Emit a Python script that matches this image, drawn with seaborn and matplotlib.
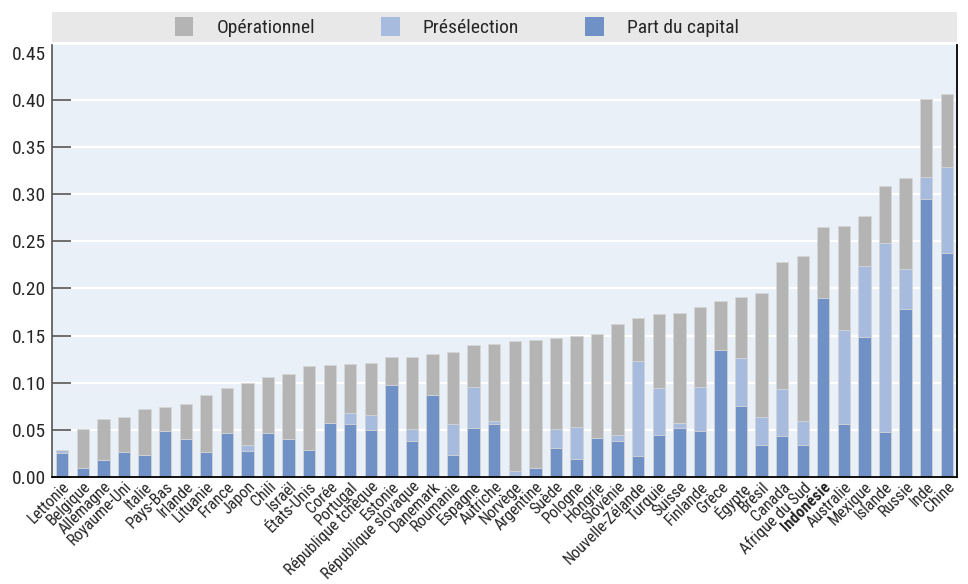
import matplotlib
matplotlib.use("Agg")
import matplotlib.pyplot as plt
from matplotlib.patches import Rectangle, Patch
from matplotlib import font_manager
import seaborn as sns
import pandas as pd
import numpy as np

countries = ["Lettonie", "Belgique", "Allemagne", "Royaume-Uni", "Italie", "Pays-Bas",
             "Irlande", "Lituanie", "France", "Japon", "Chili", "Israël", "États-Unis",
             "Corée", "Portugal", "République tchèque", "Estonie", "République slovaque",
             "Danemark", "Roumanie", "Espagne", "Autriche", "Norvège", "Argentine", "Suède",
             "Pologne", "Hongrie", "Slovénie", "Nouvelle-Zélande", "Turquie", "Suisse",
             "Finlande", "Grèce", "Égypte", "Brésil", "Canada", "Afrique du Sud",
             "Indonésie", "Australie", "Mexique", "Islande", "Russie", "Inde", "Chine"]

part_capital = [0.025, 0.010, 0.018, 0.027, 0.023, 0.049, 0.040, 0.026, 0.047, 0.028,
                0.047, 0.040, 0.029, 0.057, 0.056, 0.050, 0.098, 0.038, 0.087, 0.023,
                0.052, 0.056, 0.000, 0.010, 0.031, 0.019, 0.041, 0.038, 0.022, 0.044,
                0.052, 0.049, 0.135, 0.075, 0.034, 0.043, 0.034, 0.190, 0.056, 0.148,
                0.048, 0.178, 0.295, 0.238]
preselection = [0.004, 0.000, 0.000, 0.000, 0.000, 0.000, 0.000, 0.000, 0.000, 0.006,
                0.000, 0.000, 0.000, 0.000, 0.012, 0.016, 0.000, 0.013, 0.000, 0.033,
                0.043, 0.003, 0.006, 0.000, 0.020, 0.034, 0.000, 0.007, 0.101, 0.050,
                0.005, 0.046, 0.000, 0.051, 0.030, 0.050, 0.025, 0.000, 0.100, 0.076,
                0.200, 0.042, 0.023, 0.091]
operationnel = [0.000, 0.041, 0.044, 0.037, 0.049, 0.025, 0.037, 0.061, 0.047, 0.066,
                0.059, 0.069, 0.089, 0.062, 0.052, 0.055, 0.029, 0.076, 0.043, 0.076,
                0.045, 0.082, 0.138, 0.135, 0.096, 0.097, 0.111, 0.117, 0.046, 0.079,
                0.117, 0.085, 0.052, 0.065, 0.131, 0.135, 0.175, 0.075, 0.110, 0.053,
                0.061, 0.097, 0.083, 0.077]

yticks = [0.00, 0.05, 0.10, 0.15, 0.20, 0.25, 0.30, 0.35, 0.40, 0.45]
legend_labels = ["Opérationnel", "Présélection", "Part du capital"]

C_OP = "#b4b4b4"
C_PRE = "#a6bbdd"
C_CAP = "#6f91c5"
BG = "#eaf0f8"
BAND = "#e8e8e8"

sns.set_theme(style="white")
avail = {f.name for f in font_manager.fontManager.ttflist}
fam = [f for f in ["Liberation Sans Narrow", "Roboto Condensed", "Liberation Sans", "DejaVu Sans"] if f in avail]
plt.rcParams["font.family"] = fam + ["DejaVu Sans"]

df = pd.DataFrame({"pays": countries, "cap": part_capital, "pre": preselection, "op": operationnel})
df["lvl2"] = df["cap"] + df["pre"]
df["lvl3"] = df["lvl2"] + df["op"]

fig = plt.figure(figsize=(9.68, 5.84), dpi=100)
ax = fig.add_axes([52 / 968, 1 - 477 / 584, (957 - 52) / 968, (477 - 45) / 584])
ax.set_facecolor(BG)

kw = dict(width=0.6, edgecolor="#d6d6d6", linewidth=0.6, order=countries)
sns.barplot(data=df, x="pays", y="lvl3", color=C_OP, saturation=1, ax=ax, **kw)
sns.barplot(data=df, x="pays", y="lvl2", color=C_PRE, saturation=1, ax=ax, **kw)
sns.barplot(data=df, x="pays", y="cap", color=C_CAP, saturation=1, ax=ax, **kw)

ax.set_xlim(-0.5, len(countries) - 0.5)
ax.set_ylim(0, 0.458)
ax.set_yticks(yticks)
ax.set_yticklabels([f"{v:.2f}" for v in yticks], fontsize=14)
ax.set_axisbelow(True)
ax.yaxis.grid(True, color="white", linewidth=1.6)
ax.xaxis.grid(False)
ax.tick_params(axis="y", direction="in", length=14, width=1.2, color="#555555", pad=4, left=True)
ax.tick_params(axis="x", length=0, pad=1.5)
ax.yaxis.get_major_ticks()[-1].tick1line.set_visible(False)
ax.yaxis.get_major_ticks()[-1].gridline.set_visible(False)

ax.set_xlabel("")
ax.set_ylabel("")
ax.set_xticks(range(len(countries)))
ax.set_xticklabels(countries, rotation=45, ha="right", va="top", rotation_mode="anchor", fontsize=11.6)
for lab in ax.get_xticklabels():
    if lab.get_text() == "Indonésie":
        lab.set_fontweight("bold")

for s in ["left"]:
    ax.spines[s].set_color("#555555")
    ax.spines[s].set_linewidth(1.2)
for s in ["bottom", "right"]:
    ax.spines[s].set_color("black")
    ax.spines[s].set_linewidth(1.3)
ax.spines["top"].set_visible(False)

# legend band
fig.patches.append(Rectangle((52 / 968, 1 - 42 / 584), (957 - 52) / 968, 30 / 584,
                             transform=fig.transFigure, facecolor=BAND, edgecolor="none", zorder=0))
handles = [Patch(facecolor=c, edgecolor="none") for c in [C_OP, C_PRE, C_CAP]]
fig.legend(handles, legend_labels, loc="center", bbox_to_anchor=(0.472, 1 - 27 / 584),
           ncol=3, frameon=False, fontsize=14, handlelength=0.95, handleheight=1.15,
           columnspacing=3.4, handletextpad=1.2)

fig.savefig("out.png", dpi=100)
